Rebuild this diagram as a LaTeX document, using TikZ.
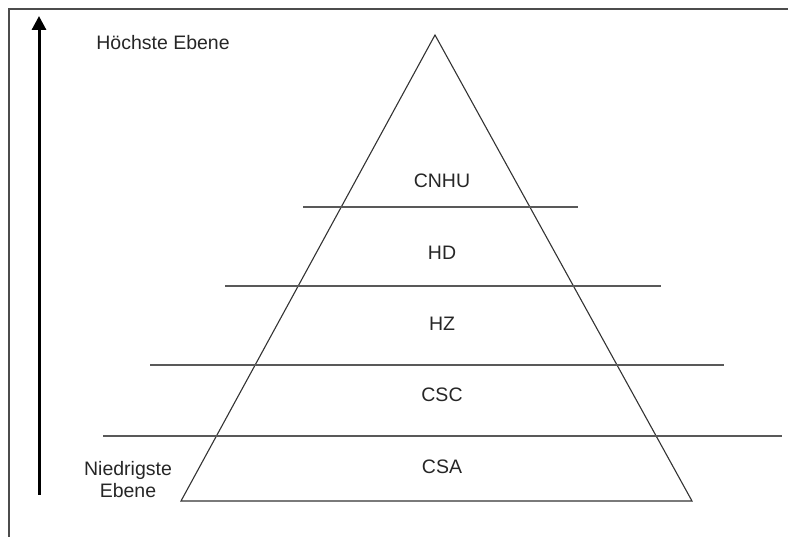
\documentclass[tikz,border=0pt]{standalone}
\usepackage{fontspec}
\setmainfont{Liberation Sans}
\usetikzlibrary{arrows.meta}
\begin{document}
\begin{tikzpicture}[x=1pt,y=-1pt,
  frameline/.style={draw=black!70, line width=1.5pt},
  pyr/.style={draw=black!80, line width=1.1pt},
  levelline/.style={draw=black!65, line width=1.3pt},
  lbl/.style={font=\fontsize{19.5}{22}\selectfont, text=black!85, inner sep=0pt},
  axis/.style={line width=3pt, -{Triangle[length=14pt,width=14pt]}}]
\useasboundingbox (0,0) rectangle (788,537);
% frame (top and left edges)
\coordinate (fl) at (9,537);
\coordinate (ftl) at (9,9);
\coordinate (fr) at (788,9);
\draw[frameline] (fl) -- (ftl) -- (fr);
% level axis
\coordinate (ab) at (39,495);
\coordinate (at) at (39,16);
\draw[axis] (ab) -- (at);
\node[lbl] (high) at (163,43) {Höchste Ebene};
\node[lbl, align=center] (low) at (128,480) {Niedrigste\\Ebene};
% pyramid
\coordinate (apex) at (435,35);
\coordinate (bl) at (181,501);
\coordinate (br) at (692,501);
\draw[pyr] (apex) -- (bl) -- (br) -- cycle;
% dividing lines
\coordinate (l1a) at (303,207); \coordinate (l1b) at (578,207);
\coordinate (l2a) at (225,286); \coordinate (l2b) at (661,286);
\coordinate (l3a) at (150,365); \coordinate (l3b) at (724,365);
\coordinate (l4a) at (103,436); \coordinate (l4b) at (782,436);
\draw[levelline] (l1a) -- (l1b);
\draw[levelline] (l2a) -- (l2b);
\draw[levelline] (l3a) -- (l3b);
\draw[levelline] (l4a) -- (l4b);
% level names
\node[lbl] (cnhu) at (442,181) {CNHU};
\node[lbl] (hd) at (442,253) {HD};
\node[lbl] (hz) at (442,324) {HZ};
\node[lbl] (csc) at (442,395) {CSC};
\node[lbl] (csa) at (442,467) {CSA};
\end{tikzpicture}
\end{document}
